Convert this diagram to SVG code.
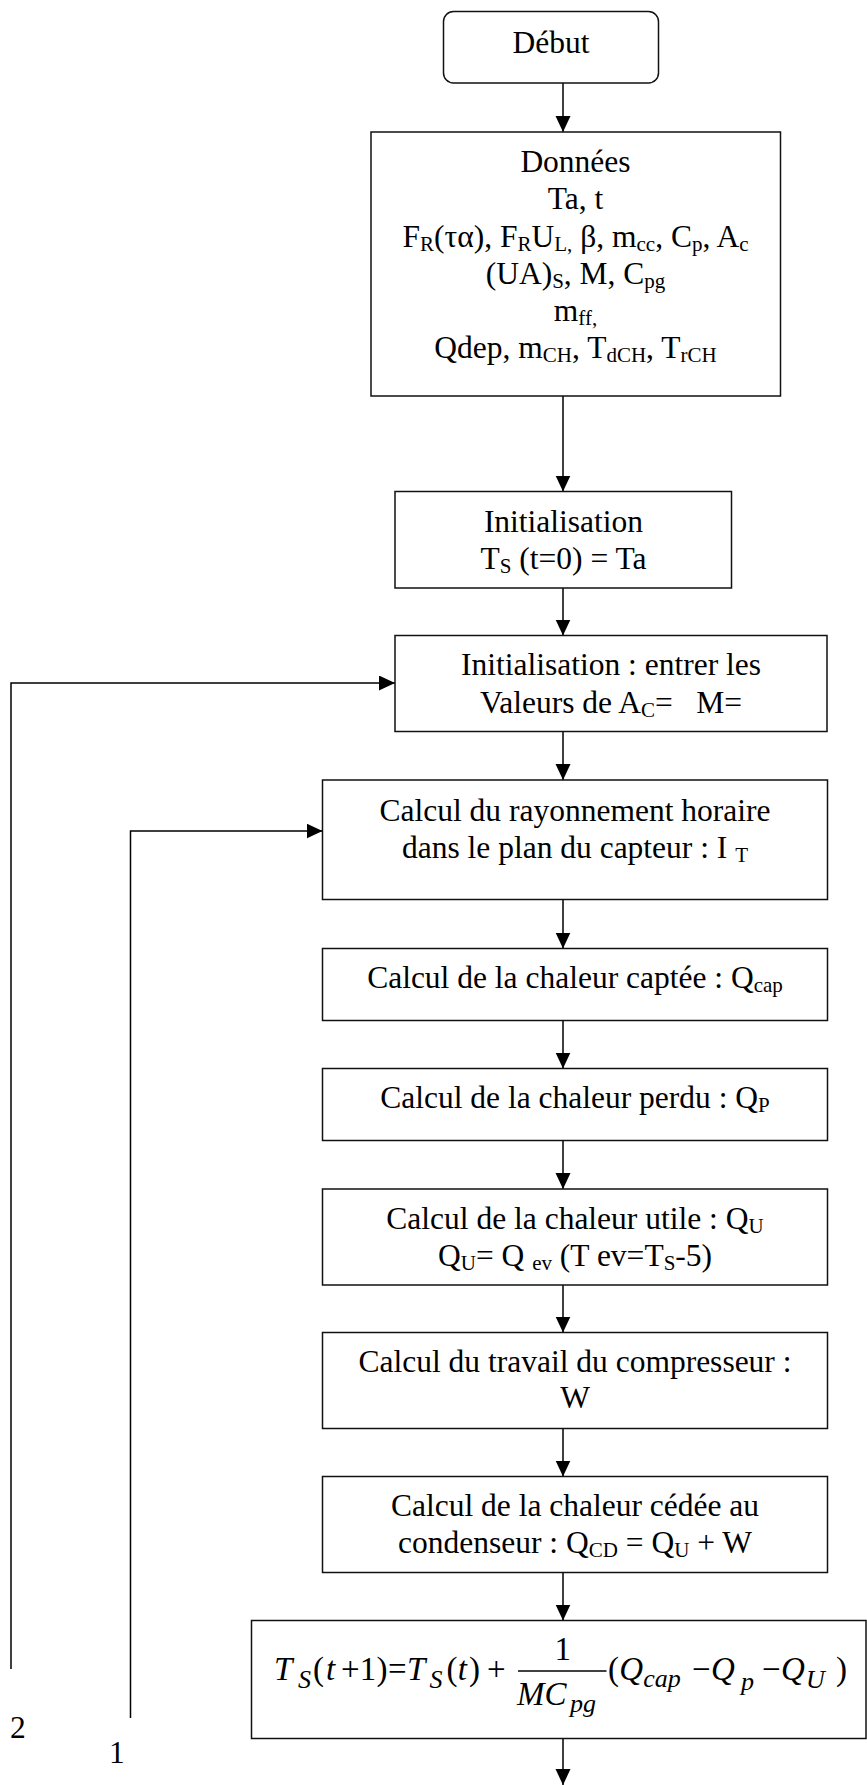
<svg xmlns="http://www.w3.org/2000/svg" width="867" height="1785" viewBox="0 0 867 1785">
<style>
.box{fill:#fff;stroke:#111;stroke-width:1.5}
text{font-family:'Liberation Serif','Times New Roman',Times,serif}
.t{font-size:31.5px;fill:#000;text-anchor:middle}
.sb{font-size:21px}
.f{font-size:33px;fill:#000}
.i{font-style:italic}
.fs{font-size:26px;font-style:italic}
.c{fill:none;stroke:#000;stroke-width:1.5}
.lbl{font-size:31.5px;fill:#000}
</style>
<defs>
<marker id="ah" markerUnits="userSpaceOnUse" markerWidth="16" markerHeight="16" refX="16" refY="7.5" orient="auto">
<path d="M0,0 L16,7.5 L0,15 z" fill="#000"/>
</marker>
</defs>

<g id="connectors">
<line class="c" x1="563" y1="83" x2="563" y2="132" marker-end="url(#ah)"/>
<line class="c" x1="563" y1="396" x2="563" y2="491.5" marker-end="url(#ah)"/>
<line class="c" x1="563" y1="588" x2="563" y2="635.5" marker-end="url(#ah)"/>
<line class="c" x1="563" y1="731.5" x2="563" y2="780" marker-end="url(#ah)"/>
<line class="c" x1="563" y1="899.5" x2="563" y2="948.5" marker-end="url(#ah)"/>
<line class="c" x1="563" y1="1020.5" x2="563" y2="1068.5" marker-end="url(#ah)"/>
<line class="c" x1="563" y1="1140.5" x2="563" y2="1189" marker-end="url(#ah)"/>
<line class="c" x1="563" y1="1285" x2="563" y2="1332.5" marker-end="url(#ah)"/>
<line class="c" x1="563" y1="1428.5" x2="563" y2="1476.5" marker-end="url(#ah)"/>
<line class="c" x1="563" y1="1572.5" x2="563" y2="1620.5" marker-end="url(#ah)"/>
<line class="c" x1="563" y1="1738.5" x2="563" y2="1785" marker-end="url(#ah)"/>
<polyline class="c" points="11,1669 11,683 395,683" marker-end="url(#ah)"/>
<polyline class="c" points="130.5,1718 130.5,831 322.5,831" marker-end="url(#ah)"/>
</g>

<g id="debut">
<rect class="box" x="443.5" y="11.5" width="215" height="71.5" rx="10" ry="10"/>
<text class="t" x="551" y="53">Début</text>
</g>

<g id="donnees">
<rect class="box" x="371" y="132" width="409.5" height="264"/>
<text class="t" x="575.5" y="172">Données</text>
<text class="t" x="575.5" y="209">Ta, t</text>
<text class="t" x="575.5" y="247">F<tspan class="sb" dy="4">R</tspan><tspan dy="-4">(τα), F</tspan><tspan class="sb" dy="4">R</tspan><tspan dy="-4">U</tspan><tspan class="sb" dy="4">L,</tspan><tspan dy="-4"> β, m</tspan><tspan class="sb" dy="4">cc</tspan><tspan dy="-4">, C</tspan><tspan class="sb" dy="4">p</tspan><tspan dy="-4">, A</tspan><tspan class="sb" dy="4">c</tspan></text>
<text class="t" x="575.5" y="284">(UA)<tspan class="sb" dy="4">S</tspan><tspan dy="-4">, M, C</tspan><tspan class="sb" dy="4">pg</tspan></text>
<text class="t" x="575.5" y="321">m<tspan class="sb" dy="4">ff,</tspan></text>
<text class="t" x="575.5" y="358">Qdep, m<tspan class="sb" dy="4">CH</tspan><tspan dy="-4">, T</tspan><tspan class="sb" dy="4">dCH</tspan><tspan dy="-4">, T</tspan><tspan class="sb" dy="4">rCH</tspan></text>
</g>

<g id="init1">
<rect class="box" x="395" y="491.5" width="336.5" height="96.5"/>
<text class="t" x="563.5" y="532">Initialisation</text>
<text class="t" x="563.5" y="569">T<tspan class="sb" dy="4">S</tspan><tspan dy="-4"> (t=0) = Ta</tspan></text>
</g>

<g id="init2">
<rect class="box" x="395" y="635.5" width="432" height="96"/>
<text class="t" x="611" y="675">Initialisation : entrer les</text>
<text class="t" x="611" y="713">Valeurs de A<tspan class="sb" dy="4">C</tspan><tspan dy="-4">=&#160;&#160; M=</tspan></text>
</g>

<g id="rayonnement">
<rect class="box" x="322.5" y="780" width="505" height="119.5"/>
<text class="t" x="575" y="821">Calcul du rayonnement horaire</text>
<text class="t" x="575" y="858">dans le plan du capteur : I <tspan class="sb" dy="4">T</tspan></text>
</g>

<g id="captee">
<rect class="box" x="322.5" y="948.5" width="505" height="72"/>
<text class="t" x="575" y="988">Calcul de la chaleur captée : Q<tspan class="sb" dy="4">cap</tspan></text>
</g>

<g id="perdu">
<rect class="box" x="322.5" y="1068.5" width="505" height="72"/>
<text class="t" x="575" y="1108">Calcul de la chaleur perdu : Q<tspan class="sb" dy="4">P</tspan></text>
</g>

<g id="utile">
<rect class="box" x="322.5" y="1189" width="505" height="96"/>
<text class="t" x="575" y="1229">Calcul de la chaleur utile : Q<tspan class="sb" dy="4">U</tspan></text>
<text class="t" x="575" y="1266">Q<tspan class="sb" dy="4">U</tspan><tspan dy="-4">= Q </tspan><tspan class="sb" dy="4">ev</tspan><tspan dy="-4"> (T ev=T</tspan><tspan class="sb" dy="4">S</tspan><tspan dy="-4">-5)</tspan></text>
</g>

<g id="travail">
<rect class="box" x="322.5" y="1332.5" width="505" height="96"/>
<text class="t" x="575" y="1371.5">Calcul du travail du compresseur :</text>
<text class="t" x="575" y="1408">W</text>
</g>

<g id="cedee">
<rect class="box" x="322.5" y="1476.5" width="505" height="96"/>
<text class="t" x="575" y="1516">Calcul de la chaleur cédée au</text>
<text class="t" x="575" y="1553">condenseur : Q<tspan class="sb" dy="4">CD</tspan><tspan dy="-4"> = Q</tspan><tspan class="sb" dy="4">U</tspan><tspan dy="-4"> + W</tspan></text>
</g>

<g id="formule">
<rect class="box" x="251.5" y="1620.5" width="614.5" height="118"/>
<line x1="518" y1="1671" x2="606.5" y2="1671" stroke="#000" stroke-width="1.3"/>
<text class="f"><tspan class="i" x="274" y="1680">T</tspan><tspan class="fs" x="298" y="1688">S</tspan><tspan x="313" y="1680">(</tspan><tspan class="i" x="326" y="1680">t</tspan><tspan x="341" y="1680">+</tspan><tspan x="359.8" y="1680">1</tspan><tspan x="376.5" y="1680">)</tspan><tspan x="388" y="1680">=</tspan><tspan class="i" x="407" y="1680">T</tspan><tspan class="fs" x="429.5" y="1688">S</tspan><tspan x="446.5" y="1680">(</tspan><tspan class="i" x="457.8" y="1680">t</tspan><tspan x="469" y="1680">)</tspan><tspan x="487" y="1680">+</tspan><tspan x="554.5" y="1660">1</tspan><tspan class="i" x="517" y="1705">MC</tspan><tspan class="fs" x="570" y="1712">pg</tspan><tspan x="608" y="1680">(</tspan><tspan class="i" x="619.2" y="1680">Q</tspan><tspan class="fs" x="643.3" y="1687">cap</tspan><tspan x="692" y="1680">−</tspan><tspan class="i" x="711" y="1680">Q</tspan><tspan class="fs" x="741" y="1690">p</tspan><tspan x="762" y="1680">−</tspan><tspan class="i" x="781" y="1680">Q</tspan><tspan class="fs" x="806" y="1688">U</tspan><tspan x="836" y="1680">)</tspan></text>
</g>

<g id="labels">
<text class="lbl" x="10" y="1738">2</text>
<text class="lbl" x="109" y="1763">1</text>
</g>
</svg>
